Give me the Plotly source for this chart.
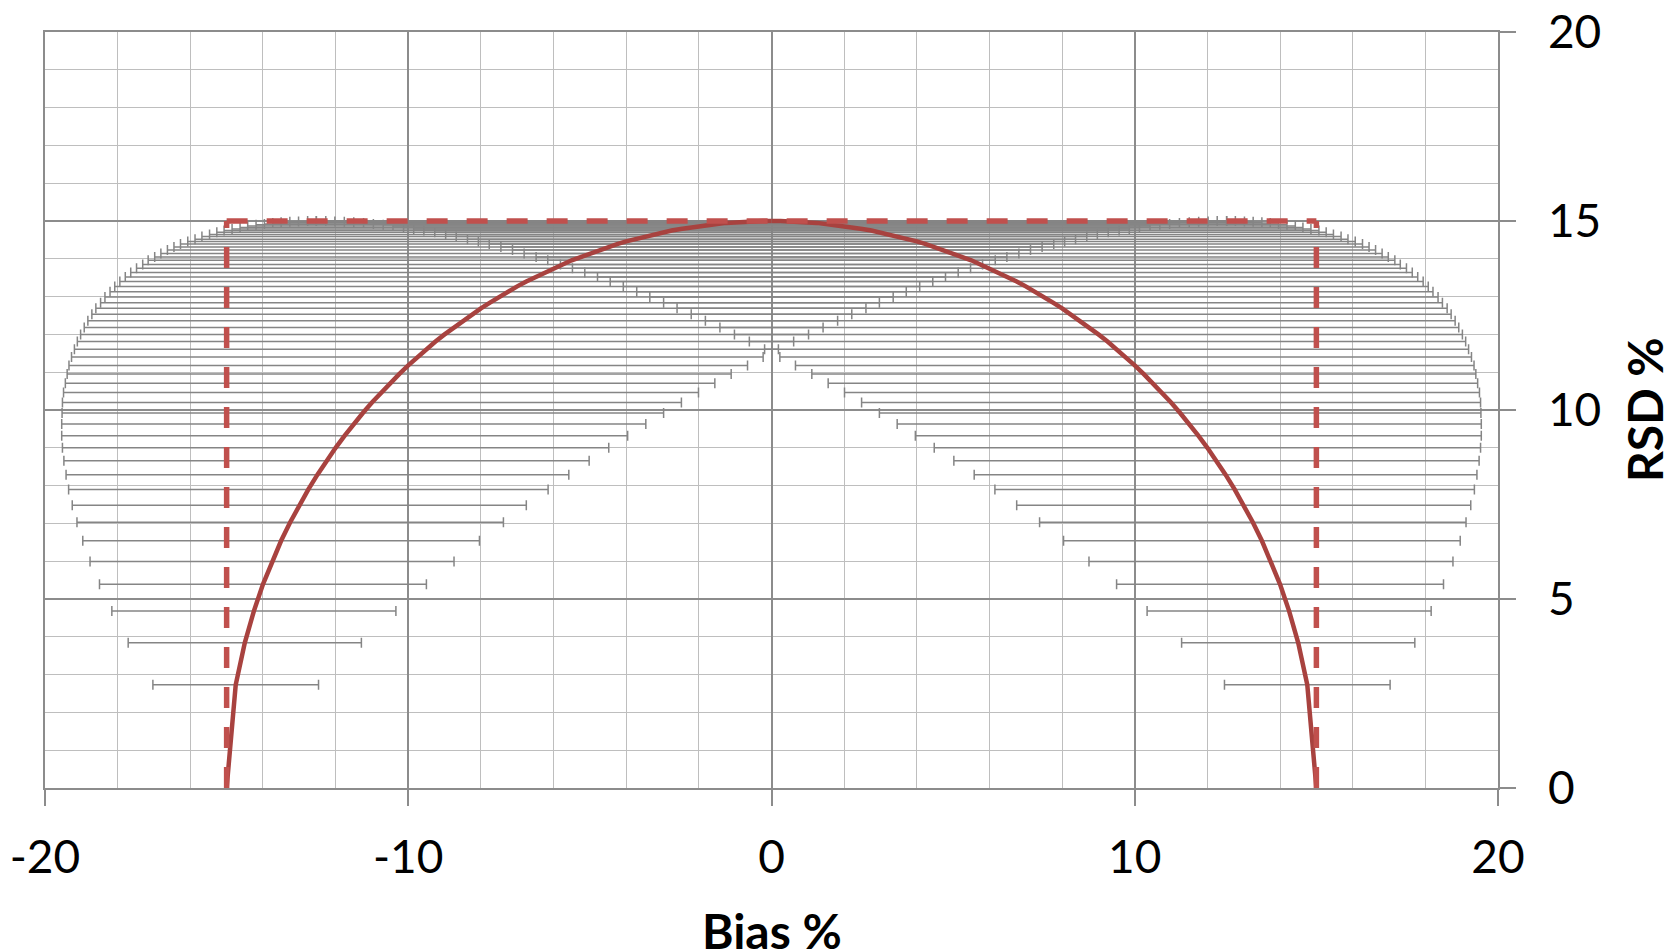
import plotly.graph_objects as go

# Bias % (centre of each horizontal interval), right half; left half mirrored values
bias_right = [15.00, 14.75, 14.50, 14.25, 14.00, 13.75, 13.50, 13.25, 13.00, 12.75,
              12.50, 12.25, 12.00, 11.75, 11.50, 11.25, 11.00, 10.75, 10.50, 10.25,
              10.00, 9.75, 9.50, 9.25, 9.00, 8.75, 8.50, 8.25, 8.00, 7.75,
              7.50, 7.25, 7.00, 6.75, 6.50, 6.25, 6.00, 5.75, 5.50, 5.25,
              5.00, 4.75, 4.50, 4.25, 4.00, 3.75, 3.50, 3.25, 3.00, 2.75,
              2.50, 2.25, 2.00, 1.75, 1.50, 1.25, 1.00, 0.75, 0.50, 0.25, 0.00]
bias_left = [-15.00, -14.75, -14.50, -14.25, -14.00, -13.75, -13.50, -13.25, -13.00, -12.75,
             -12.50, -12.25, -12.00, -11.75, -11.50, -11.25, -11.00, -10.75, -10.50, -10.25,
             -10.00, -9.75, -9.50, -9.25, -9.00, -8.75, -8.50, -8.25, -8.00, -7.75,
             -7.50, -7.25, -7.00, -6.75, -6.50, -6.25, -6.00, -5.75, -5.50, -5.25,
             -5.00, -4.75, -4.50, -4.25, -4.00, -3.75, -3.50, -3.25, -3.00, -2.75,
             -2.50, -2.25, -2.00, -1.75, -1.50, -1.25, -1.00, -0.75, -0.50, -0.25, 0.00]
# RSD % for each point
rsd = [0.00, 2.73, 3.84, 4.68, 5.39, 5.99, 6.54, 7.03, 7.48, 7.90,
       8.29, 8.66, 9.00, 9.32, 9.63, 9.92, 10.20, 10.46, 10.71, 10.95,
       11.18, 11.40, 11.61, 11.81, 12.00, 12.18, 12.36, 12.53, 12.69, 12.84,
       12.99, 13.13, 13.27, 13.40, 13.52, 13.64, 13.75, 13.85, 13.96, 14.05,
       14.14, 14.23, 14.31, 14.39, 14.46, 14.52, 14.59, 14.64, 14.70, 14.75,
       14.79, 14.83, 14.87, 14.90, 14.92, 14.95, 14.97, 14.98, 14.99, 15.00, 15.00]
# half-width of each horizontal interval
interval = [0.00, 2.28, 3.21, 3.91, 4.50, 5.01, 5.46, 5.87, 6.25, 6.60,
            6.92, 7.23, 7.52, 7.79, 8.04, 8.28, 8.52, 8.74, 8.94, 9.14,
            9.34, 9.52, 9.69, 9.86, 10.02, 10.17, 10.32, 10.46, 10.60, 10.72,
            10.85, 10.96, 11.08, 11.19, 11.29, 11.39, 11.48, 11.56, 11.66, 11.73,
            11.81, 11.88, 11.95, 12.02, 12.07, 12.12, 12.18, 12.22, 12.27, 12.32,
            12.35, 12.38, 12.42, 12.44, 12.46, 12.48, 12.50, 12.51, 12.52, 12.52, 12.53]
# acceptance limits (dashed): top edge and the two vertical edges
limit_top_x = [-15, 15]
limit_top_y = [15, 15]
limit_left_x = [-15, -15]
limit_right_x = [15, 15]
limit_side_y = [0, 15]

x_ticks = [-20, -10, 0, 10, 20]
y_ticks = [0, 5, 10, 15, 20]

GRAY = "#858585"
RED_LINE = "#A8423F"
RED_DASH = "#C0504D"
FONT = "Lato"

fig = go.Figure()
for bx in (bias_right, bias_left):
    fig.add_trace(go.Scatter(
        x=bx, y=rsd, mode="markers",
        marker=dict(size=1, color="rgba(0,0,0,0)"),
        error_x=dict(type="data", array=interval, symmetric=True,
                     color=GRAY, thickness=1.5, width=5),
        showlegend=False, hoverinfo="skip"))
for bx in (bias_right, bias_left):
    fig.add_trace(go.Scatter(
        x=bx, y=rsd, mode="lines",
        line=dict(color=RED_LINE, width=4.5),
        showlegend=False))
for lx, ly in ((limit_top_x, limit_top_y), (limit_left_x, limit_side_y),
               (limit_right_x, limit_side_y)):
    fig.add_trace(go.Scatter(
        x=lx, y=ly, mode="lines",
        line=dict(color=RED_DASH, width=5.5, dash="21px,19px"),
        showlegend=False))

fig.update_layout(
    width=1667, height=950,
    margin=dict(l=45, r=169, t=32, b=162),
    plot_bgcolor="white", paper_bgcolor="white",
    font=dict(family=FONT, size=46, color="black"),
    xaxis=dict(range=[-20, 20], tickvals=x_ticks, ticktext=[str(v) for v in x_ticks],
               automargin=False,
               showgrid=True, gridcolor="#8C8C8C", gridwidth=1.5,
               minor=dict(dtick=2, showgrid=True, gridcolor="#BEBEBE", gridwidth=1.3),
               showline=True, linecolor="#8C8C8C", linewidth=1.5, mirror=True,
               ticks="outside", ticklen=16, tickcolor="#8C8C8C", tickwidth=1.5,
               zeroline=False, ticklabelstandoff=12,
               tickfont=dict(family=FONT, size=46)),
    yaxis=dict(range=[0, 20], tickvals=y_ticks, ticktext=[str(v) for v in y_ticks],
               side="right", automargin=False,
               showgrid=True, gridcolor="#8C8C8C", gridwidth=1.5,
               minor=dict(dtick=1, showgrid=True, gridcolor="#BEBEBE", gridwidth=1.3),
               showline=True, linecolor="#8C8C8C", linewidth=1.5, mirror=True,
               ticks="outside", ticklen=16, tickcolor="#8C8C8C", tickwidth=1.5,
               zeroline=False, ticklabelstandoff=23,
               tickfont=dict(family=FONT, size=46)),
    annotations=[
        dict(text="<b>Bias %</b>", xref="paper", yref="paper", x=0.5, y=0,
             yshift=-142, xanchor="center", yanchor="middle", showarrow=False,
             font=dict(family=FONT, size=48, color="black")),
        dict(text="<b>RSD %</b>", xref="paper", yref="paper", x=1, y=0.5,
             xshift=146, xanchor="center", yanchor="middle", showarrow=False,
             textangle=-90, font=dict(family=FONT, size=48, color="black")),
    ],
)

fig.write_html("out.html")
